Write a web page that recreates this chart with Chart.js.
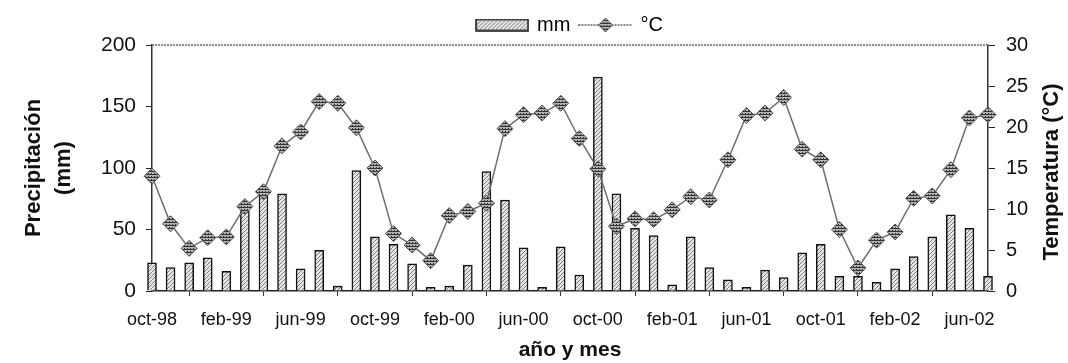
<!DOCTYPE html>
<html>
<head>
<meta charset="utf-8">
<script src="https://cdn.jsdelivr.net/npm/chart.js@4.4.0/dist/chart.umd.min.js"></script>
<style>
    html, body { margin: 0; padding: 0; background: #fff; }
    #wrap { width: 1068px; height: 363px; }
</style>
</head>
<body>
<div id="wrap"><canvas id="clima-chart" width="1068" height="363"></canvas></div>
<script>
// =============================
// DATA (oct-98 .. jul-02, monthly)
// =============================
const months = [
    'oct-98', 'nov-98', 'dic-98', 'ene-99', 'feb-99', 'mar-99', 'abr-99', 'may-99', 'jun-99', 'jul-99', 'ago-99', 'sep-99',
    'oct-99', 'nov-99', 'dic-99', 'ene-00', 'feb-00', 'mar-00', 'abr-00', 'may-00', 'jun-00', 'jul-00', 'ago-00', 'sep-00',
    'oct-00', 'nov-00', 'dic-00', 'ene-01', 'feb-01', 'mar-01', 'abr-01', 'may-01', 'jun-01', 'jul-01', 'ago-01', 'sep-01',
    'oct-01', 'nov-01', 'dic-01', 'ene-02', 'feb-02', 'mar-02', 'abr-02', 'may-02', 'jun-02', 'jul-02'
];

const precipMm = [
    23, 19, 23, 27, 16, 65, 78, 79, 18, 33, 4, 98,
    44, 38, 22, 3, 4, 21, 97, 74, 35, 3, 36, 13,
    174, 79, 51, 45, 5, 44, 19, 9, 3, 17, 11, 31,
    38, 12, 12, 7, 18, 28, 44, 62, 51, 12
];

const tempC = [
    14.0, 8.2, 5.2, 6.5, 6.6, 10.3, 12.1, 17.7, 19.4, 23.1, 22.9, 19.9,
    15.0, 7.0, 5.6, 3.7, 9.2, 9.7, 10.7, 19.8, 21.5, 21.7, 22.9, 18.6,
    14.9, 7.9, 8.8, 8.7, 9.9, 11.5, 11.1, 16.0, 21.4, 21.7, 23.6, 17.3,
    16.0, 7.5, 2.8, 6.2, 7.2, 11.3, 11.6, 14.8, 21.1, 21.5
];

const precipTicks = [0, 50, 100, 150, 200];
const tempTicks = [0, 5, 10, 15, 20, 25, 30];
const labelEvery = 4;

const FONT = "'Liberation Sans', Arial, sans-serif";
Chart.defaults.font.family = FONT;
Chart.defaults.color = '#111';

// =============================
// PATTERNS / LEGEND SWATCHES
// =============================
function makeTile(w, h, bg, fg, paint) {
    const c = document.createElement('canvas');
    c.width = w; c.height = h;
    const x = c.getContext('2d');
    x.fillStyle = bg;
    x.fillRect(0, 0, w, h);
    x.fillStyle = fg;
    paint(x);
    return c;
}

const ctx = document.getElementById('clima-chart').getContext('2d');

// light grey diagonal hatch for the rain bars
const barTile = makeTile(4, 4, '#e6e6e6', '#7c7c7c', x => {
    x.fillRect(0, 3, 1, 1); x.fillRect(1, 2, 1, 1); x.fillRect(2, 1, 1, 1); x.fillRect(3, 0, 1, 1);
});
const barFill = ctx.createPattern(barTile, 'repeat');

// darker striped fill for the temperature diamonds
const dotTile = makeTile(3, 3, '#b4b4b4', '#333', x => {
    x.fillRect(0, 0, 3, 1); x.fillRect(1, 2, 1, 1);
});
const dotFill = ctx.createPattern(dotTile, 'repeat');

function barSwatch() {
    const c = document.createElement('canvas');
    c.width = 54; c.height = 13;
    const x = c.getContext('2d');
    x.fillStyle = x.createPattern(barTile, 'repeat');
    x.fillRect(1, 1, 52, 11);
    x.strokeStyle = '#111';
    x.lineWidth = 1.5;
    x.strokeRect(1, 1, 52, 11);
    return c;
}

function lineSwatch() {
    const c = document.createElement('canvas');
    c.width = 54; c.height = 16;
    const x = c.getContext('2d');
    x.strokeStyle = '#666';
    x.lineWidth = 1.5;
    x.setLineDash([2, 1]);
    x.beginPath(); x.moveTo(0, 8); x.lineTo(54, 8); x.stroke();
    x.setLineDash([]);
    x.beginPath();
    x.moveTo(27, 1); x.lineTo(34, 8); x.lineTo(27, 15); x.lineTo(20, 8); x.closePath();
    x.fillStyle = x.createPattern(dotTile, 'repeat');
    x.fill();
    x.strokeStyle = '#555';
    x.lineWidth = 1;
    x.stroke();
    return c;
}

// =============================
// PLUGINS
// =============================
// center the legend over the plot area instead of the whole canvas
const legendOverPlot = {
    id: 'legendOverPlot',
    afterLayout(chart) {
        const lg = chart.legend;
        if (!lg) return;
        const d = (chart.chartArea.left + chart.chartArea.right) / 2 - (lg.left + lg.right) / 2;
        lg.left += d;
        lg.right += d;
    }
};

// hatched top frame line of the plot area
const topFrame = {
    id: 'topFrame',
    beforeDatasetsDraw(chart) {
        const { ctx, chartArea } = chart;
        ctx.save();
        ctx.strokeStyle = '#6a6a6a';
        ctx.lineWidth = 1.5;
        ctx.setLineDash([2, 1]);
        ctx.beginPath();
        ctx.moveTo(chartArea.left, chartArea.top);
        ctx.lineTo(chartArea.right, chartArea.top);
        ctx.stroke();
        ctx.restore();
    }
};

// right axis title reads bottom-to-top, Chart.js would rotate it the other way
const rightTitle = {
    id: 'rightTitle',
    afterDraw(chart) {
        const { ctx, chartArea } = chart;
        const sc = chart.scales.yT;
        ctx.save();
        ctx.translate(sc.right - 14, (chartArea.top + chartArea.bottom) / 2 + 4);
        ctx.rotate(-Math.PI / 2);
        ctx.font = 'bold 22px ' + FONT;
        ctx.fillStyle = '#111';
        ctx.textAlign = 'center';
        ctx.textBaseline = 'middle';
        ctx.fillText('Temperatura (°C)', 0, 0);
        ctx.restore();
    }
};

// =============================
// CHART
// =============================
function renderClimaChart() {
    return new Chart(ctx, {
        data: {
            labels: months,
            datasets: [
                {
                    type: 'line',
                    label: '°C',
                    data: tempC,
                    yAxisID: 'yT',
                    order: 0,
                    borderColor: '#6e6e6e',
                    borderWidth: 1.5,
                    tension: 0,
                    pointStyle: 'rectRot',
                    pointRadius: 8,
                    pointBackgroundColor: dotFill,
                    pointBorderColor: '#555',
                    pointBorderWidth: 1,
                    clip: false
                },
                {
                    type: 'bar',
                    label: 'mm',
                    data: precipMm,
                    yAxisID: 'yP',
                    order: 1,
                    backgroundColor: barFill,
                    borderColor: '#111',
                    borderWidth: 1.5,
                    barThickness: 9,
                    clip: false
                }
            ]
        },
        options: {
            responsive: false,
            animation: false,
            layout: { padding: { top: 5, left: 19, right: 2, bottom: 0 } },
            plugins: {
                tooltip: { enabled: false },
                legend: {
                    position: 'top',
                    labels: {
                        usePointStyle: true,
                        pointStyleWidth: 50,
                        padding: 10,
                        font: { size: 20 },
                        color: '#111',
                        generateLabels: () => [
                            { text: 'mm', pointStyle: barSwatch(), lineWidth: 0, hidden: false, datasetIndex: 1 },
                            { text: '°C', pointStyle: lineSwatch(), lineWidth: 0, hidden: false, datasetIndex: 0 }
                        ]
                    }
                }
            },
            scales: {
                x: {
                    offset: false,
                    afterFit: s => { s.height = 72; },
                    grid: { drawOnChartArea: false, tickLength: 5, color: '#333' },
                    border: { display: true, color: '#222', width: 1.5 },
                    ticks: {
                        autoSkip: false,
                        maxRotation: 0,
                        padding: 13,
                        font: { size: 18 },
                        callback: (v, i) => (i % labelEvery === 0 ? months[i] : null)
                    },
                    title: {
                        display: true,
                        text: 'año y mes',
                        font: { size: 21, weight: 'bold' },
                        padding: 0
                    }
                },
                yP: {
                    position: 'left',
                    min: precipTicks[0],
                    max: precipTicks[precipTicks.length - 1],
                    afterFit: s => { s.width = 133; },
                    grid: { drawOnChartArea: false, tickLength: 6, color: '#222' },
                    border: { display: true, color: '#333', width: 1.5 },
                    ticks: { stepSize: precipTicks[1] - precipTicks[0], padding: 10, font: { size: 21 } },
                    title: {
                        display: true,
                        text: ['Precipitación', '(mm)'],
                        font: { size: 22, weight: 'bold', lineHeight: 1.35 },
                        padding: 0
                    }
                },
                yT: {
                    position: 'right',
                    min: tempTicks[0],
                    max: tempTicks[tempTicks.length - 1],
                    afterFit: s => { s.width = 78; },
                    grid: { drawOnChartArea: false, tickLength: 7, color: '#222' },
                    border: { display: true, color: '#333', width: 1.5 },
                    ticks: { stepSize: tempTicks[1] - tempTicks[0], padding: 11, font: { size: 20 } }
                }
            }
        },
        plugins: [legendOverPlot, topFrame, rightTitle]
    });
}

renderClimaChart();
</script>
</body>
</html>
